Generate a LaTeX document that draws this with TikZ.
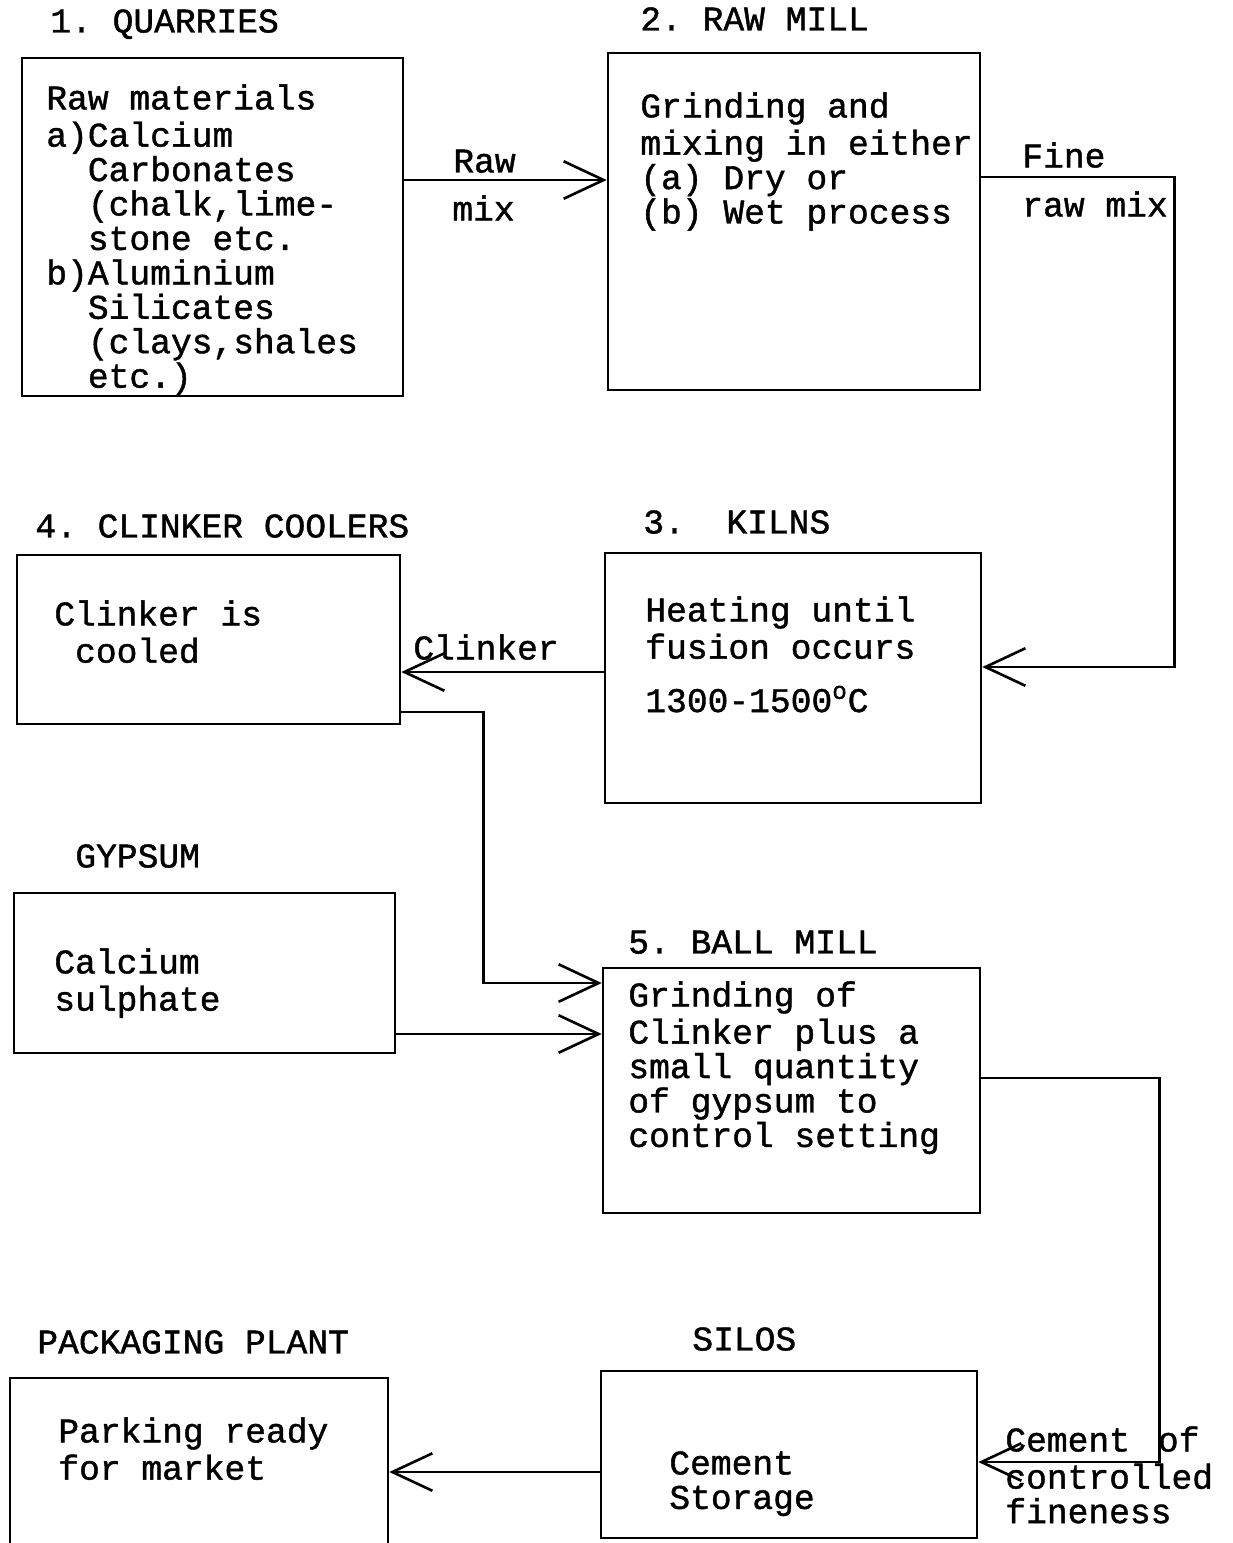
\documentclass[tikz,border=0pt]{standalone}
\usepackage{fontspec}
\setmonofont[FakeBold=1.2]{Liberation Mono}
\usetikzlibrary{arrows.meta}
\tikzset{box/.style = {draw, line width=1.5pt, rectangle, inner sep=0pt}}
\tikzset{arrow/.style = {line width=1.5pt,-{Straight Barb[length=8mm,width=7.5mm]}}}
\tikzset{txt/.style = {anchor=north west, inner sep=0pt, align=left, font=\ttfamily\fontsize{19.7}{19.6}\selectfont}}

\begin{document}
\begin{tikzpicture}[x=0.02cm, y=-0.02cm]
\useasboundingbox (0,0) rectangle (1232,1543);

\node[box, minimum width=7.62cm, minimum height=6.76cm] (quarries) at (212.5,227) {};
\node[box, minimum width=7.44cm, minimum height=6.74cm] (rawmill) at (794,221.5) {};
\node[box, minimum width=7.52cm, minimum height=5.00cm] (kilns) at (793,678) {};
\node[box, minimum width=7.66cm, minimum height=3.38cm] (coolers) at (208.5,639.5) {};
\node[box, minimum width=7.62cm, minimum height=3.20cm] (gypsum) at (204.5,973) {};
\node[box, minimum width=7.54cm, minimum height=4.90cm] (ballmill) at (791.5,1090.5) {};
\node[box, minimum width=7.52cm, minimum height=3.34cm] (silos) at (789,1454.5) {};
\node[box, minimum width=7.56cm, minimum height=3.40cm] (packing) at (199,1463) {};

\node[txt] (quarriestitle) at (50,8) {\strut 1. QUARRIES};
\node[txt] (rawmilltitle) at (640,6) {\strut 2. RAW MILL};
\node[txt] (kilnstitle) at (643,509) {\strut 3.\ \ KILNS};
\node[txt] (coolerstitle) at (35,513) {\strut 4. CLINKER COOLERS};
\node[txt] (gypsumtitle) at (75,843) {\strut GYPSUM};
\node[txt] (ballmilltitle) at (628,929) {\strut 5. BALL MILL};
\node[txt] (silostitle) at (692,1326) {\strut SILOS};
\node[txt] (packingtitle) at (37,1329) {\strut PACKAGING PLANT};

\node[txt] (quarriestext) at (46,84) {\strut Raw materials\\a)Calcium\\\phantom{a)}Carbonates\\\phantom{a)}(chalk,lime-\\\phantom{a)}stone etc.\\b)Aluminium\\\phantom{b)}Silicates\\\phantom{b)}(clays,shales\\\phantom{b)}etc.)};
\node[txt] (rawmilltext) at (640,92) {\strut Grinding and\\mixing in either\\(a) Dry or\\(b) Wet process};
\node[txt] (kilnstext) at (645,596) {\strut Heating until\\fusion occurs\\[0.38cm]1300-1500\textsuperscript{o}C};
\node[txt] (coolerstext) at (54,600) {\strut Clinker is\\\phantom{C}cooled};
\node[txt] (gypsumtext) at (54,948) {\strut Calcium\\sulphate};
\node[txt] (ballmilltext) at (628,981) {\strut Grinding of\\Clinker plus a\\small quantity\\of gypsum to\\control setting};
\node[txt] (silostext) at (669,1450) {\strut Cement\\Storage};
\node[txt] (packingtext) at (58,1417) {\strut Parking ready\\for market};

\node[txt] (rawlabel) at (453,148) {\strut Raw};
\node[txt] (mixlabel) at (452,195) {\strut mix};
\node[txt] (finelabel) at (1022,142) {\strut Fine};
\node[txt] (rawmixlabel) at (1022,191) {\strut raw mix};
\node[txt] (clinkerlabel) at (413,634) {\strut Clinker};
\node[txt] (cementlabel) at (1005,1426) {\strut Cement\hspace{0.56cm}of\\controlled\\fineness};

\coordinate (rawout) at ([yshift=0.94cm]quarries.east);
\coordinate (fineout) at ([yshift=0.89cm]rawmill.east);
\coordinate (finein) at ([yshift=0.22cm]kilns.east);
\coordinate (clinkout) at ([yshift=0.12cm]kilns.west);
\coordinate (coolout) at ([yshift=-1.45cm]coolers.east);
\coordinate (clinkin) at ([yshift=2.15cm]ballmill.west);
\coordinate (gypout) at ([yshift=-1.22cm]gypsum.east);
\coordinate (cementout) at ([yshift=0.25cm]ballmill.east);
\coordinate (cementin) at ([yshift=-0.15cm]silos.east);
\coordinate (storeout) at ([yshift=-0.35cm]silos.west);

\draw[arrow] (rawout) -- (rawout -| rawmill.west);
\draw[arrow] (fineout) -- ++(193,0) |- (finein);
\draw[arrow] (clinkout) -- (clinkout -| coolers.east);
\draw[arrow] (coolout) -- ++(82,0) |- (clinkin);
\draw[arrow] (gypout) -- (gypout -| ballmill.west);
\draw[arrow] (cementout) -- ++(178,0) |- (cementin);
\draw[arrow] (storeout) -- (storeout -| packing.east);

\end{tikzpicture}
\end{document}
